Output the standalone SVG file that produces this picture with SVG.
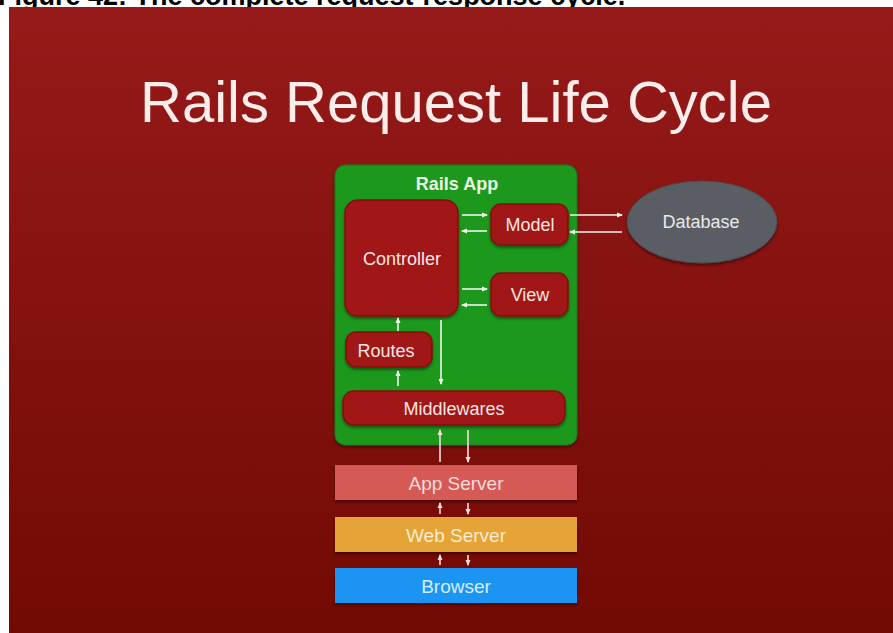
<svg xmlns="http://www.w3.org/2000/svg" width="893" height="633" viewBox="0 0 893 633">
<defs>
<linearGradient id="bg" x1="0" y1="0" x2="0" y2="1">
<stop offset="0" stop-color="#961a19"/>
<stop offset="1" stop-color="#720a04"/>
</linearGradient>
<filter id="sh" x="-20%" y="-20%" width="140%" height="150%">
<feDropShadow dx="0" dy="2" stdDeviation="1.5" flood-color="#000" flood-opacity="0.45"/>
</filter>
<marker id="ah" markerWidth="6" markerHeight="6" refX="5" refY="3" orient="auto" markerUnits="userSpaceOnUse">
<path d="M0,0.5 L6,3 L0,5.5 z" fill="#f2f7ee"/>
</marker>
<marker id="ahp" markerWidth="6" markerHeight="6" refX="5" refY="3" orient="auto" markerUnits="userSpaceOnUse">
<path d="M0,0.5 L6,3 L0,5.5 z" fill="#f6dede"/>
</marker>
</defs>
<style>
.t{font-family:"Liberation Sans",Arial,sans-serif;text-anchor:middle}
.inner{fill:#a11717;stroke:#861010;stroke-width:1.5}
.lbl{font-size:18px;fill:#f6e6e2}
.c{stroke:#eef6ea;stroke-width:1.6;fill:none;marker-end:url(#ah)}
.cp{stroke:#f6dede;stroke-width:1.6;fill:none;marker-end:url(#ahp)}
</style>
<rect x="0" y="0" width="893" height="633" fill="#ffffff"/>
<text x="-2" y="5" font-family="Liberation Sans,Arial,sans-serif" font-weight="bold" font-size="27" fill="#000">Figure 42: The complete request-response cycle.</text>
<rect x="9" y="7" width="884" height="626" fill="url(#bg)"/>
<text class="t" x="456" y="122" font-size="58" fill="#fcecea">Rails Request Life Cycle</text>

<g id="rails-app">
<rect x="335" y="165" width="242" height="280" rx="10" fill="#1f991f" stroke="#167a16" stroke-width="1" filter="url(#sh)"/>
<text class="t" x="457" y="190" font-size="18" font-weight="bold" fill="#e9f6e4">Rails App</text>
</g>
<g id="controller">
<rect class="inner" x="345" y="200" width="113" height="116" rx="13" filter="url(#sh)"/>
<text class="t lbl" x="402" y="265">Controller</text>
</g>
<g id="model">
<rect class="inner" x="491" y="204" width="77" height="41" rx="10" filter="url(#sh)"/>
<text class="t lbl" x="530" y="231">Model</text>
</g>
<g id="view">
<rect class="inner" x="491" y="273" width="77" height="43" rx="10" filter="url(#sh)"/>
<text class="t lbl" x="530" y="301">View</text>
</g>
<g id="routes">
<rect class="inner" x="346" y="332" width="86" height="35" rx="10" filter="url(#sh)"/>
<text class="t lbl" x="386" y="357">Routes</text>
</g>
<g id="middlewares">
<rect class="inner" x="343" y="391" width="222" height="34" rx="11" filter="url(#sh)"/>
<text class="t lbl" x="454" y="415">Middlewares</text>
</g>
<g id="database">
<ellipse cx="702" cy="222" rx="75" ry="41" fill="#5a5d64" stroke="#4a4c52" stroke-width="1" filter="url(#sh)"/>
<text class="t" x="701" y="228" font-size="18" fill="#e8e9ea">Database</text>
</g>
<g id="app-server">
<rect x="335" y="465" width="242" height="35" fill="#d55a57" filter="url(#sh)"/>
<text class="t" x="456" y="490" font-size="19" fill="#f7dcdb">App Server</text>
</g>
<g id="web-server">
<rect x="335" y="517" width="242" height="35" fill="#e6a437" filter="url(#sh)"/>
<text class="t" x="456" y="542" font-size="19" fill="#faedd0">Web Server</text>
</g>
<g id="browser">
<rect x="335" y="568" width="242" height="35" fill="#1a94f1" filter="url(#sh)"/>
<text class="t" x="456" y="593" font-size="19" fill="#d4f0ff">Browser</text>
</g>

<g id="connectors">
<line class="c" x1="462" y1="215" x2="487" y2="215"/>
<line class="c" x1="487" y1="231" x2="462" y2="231"/>
<line class="c" x1="462" y1="289" x2="487" y2="289"/>
<line class="c" x1="487" y1="305" x2="462" y2="305"/>
<line class="c" x1="570" y1="215" x2="622" y2="215"/>
<line class="c" x1="622" y1="232" x2="570" y2="232"/>
<line class="c" x1="398" y1="331" x2="398" y2="318"/>
<line class="c" x1="398" y1="386" x2="398" y2="371"/>
<line class="c" x1="441" y1="320" x2="441" y2="384"/>
<line class="cp" x1="440" y1="462" x2="440" y2="430"/>
<line class="cp" x1="468" y1="430" x2="468" y2="462"/>
<line class="cp" x1="440" y1="514" x2="440" y2="503"/>
<line class="cp" x1="468" y1="503" x2="468" y2="514"/>
<line class="cp" x1="440" y1="565" x2="440" y2="555"/>
<line class="cp" x1="468" y1="555" x2="468" y2="565"/>
</g>
</svg>
